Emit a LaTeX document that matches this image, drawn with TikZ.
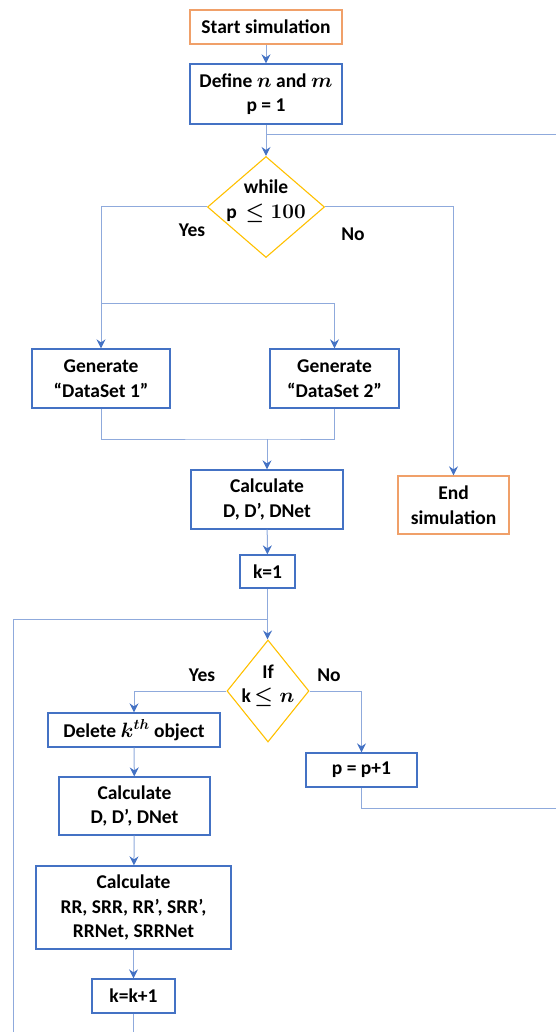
\documentclass[tikz,border=0pt]{standalone}
\usepackage[no-math]{fontspec}
\setmainfont{Carlito}
\usetikzlibrary{shapes.geometric,arrows.meta}
\definecolor{boxblue}{RGB}{68,114,196}
\definecolor{linkblue}{RGB}{143,170,220}
\definecolor{termorange}{RGB}{240,160,105}
\definecolor{decyellow}{RGB}{255,192,0}

\begin{document}
\begin{tikzpicture}[x=1pt,y=-1pt,
  every node/.style={font=\fontsize{19.5}{24.5}\selectfont\bfseries\mathversion{bold},
    align=center, inner sep=0pt},
  procbox/.style={draw=boxblue, line width=1.3pt, fill=white},
  termbox/.style={draw=termorange, line width=1.3pt, fill=white},
  decision/.style={diamond, draw=decyellow, line width=1.1pt, inner sep=0pt},
  link/.style={draw=linkblue, line width=1pt},
  flow/.style={link, -{Stealth[length=9pt,width=9pt,inset=3pt,color=boxblue]}}]

\useasboundingbox (0,0) rectangle (556,1032);

% terminals
\node[termbox, minimum width=152pt, minimum height=34pt] (start) at (266,27) {Start simulation};
\node[termbox, minimum width=111pt, minimum height=58pt] (stop) at (453.5,505) {End\\simulation};

% process boxes
\node[procbox, minimum width=152pt, minimum height=60pt] (define) at (266,94) {Define $n$ and $m$\\p = 1};
\node[procbox, minimum width=138pt, minimum height=59pt] (gen1) at (101,378.5) {Generate\\“DataSet 1”};
\node[procbox, minimum width=129pt, minimum height=59pt] (gen2) at (334.5,378.5) {Generate\\“DataSet 2”};
\node[procbox, minimum width=152pt, minimum height=59pt] (calc1) at (267,499.5) {Calculate\\D, D’, DNet};
\node[procbox, minimum width=55pt, minimum height=33pt] (k1) at (267.5,571.5) {k=1};
\node[procbox, minimum width=172pt, minimum height=34pt] (del) at (134,730) {Delete $k^{th}$ object};
\node[procbox, minimum width=151pt, minimum height=58pt] (calc2) at (134.5,806) {Calculate\\D, D’, DNet};
\node[procbox, minimum width=195pt, minimum height=83pt] (calc3) at (133.5,907.5) {Calculate\\RR, SRR, RR’, SRR’,\\RRNet, SRRNet};
\node[procbox, minimum width=83pt, minimum height=34pt] (kk) at (133.5,996) {k=k+1};
\node[procbox, minimum width=111pt, minimum height=34pt] (pp) at (361.5,770) {p = p+1};

% decisions
\node[decision, minimum width=117pt, minimum height=101pt,
  label={[yshift=6pt]center:while\\p\ \ $\leq 100$}] (d1) at (266,207) {};
\node[decision, minimum width=82pt, minimum height=102pt,
  label={[yshift=5pt]center:If\\k\,$\leq n$}] (d2) at (268,691) {};

% branch labels
\node (yes1) at (192,230) {Yes};
\node (no1) at (353,234) {No};
\node (yes2) at (202,675) {Yes};
\node (no2) at (329,675) {No};

% loose ends and junctions
\coordinate (outerret) at (556,135);
\coordinate (split) at (101,303);
\coordinate (merge) at (267,439);
\coordinate (innerret) at (13,619);
\coordinate (innerbot) at (13,1032);
\coordinate (kkbot) at (133.5,1032);
\coordinate (ppout) at (556,808);

% connectors
\draw[flow] (start) -- (define);
\draw[flow] (define) -- (d1);
\draw[link] (outerret) -- (define.south |- outerret);
\draw[flow] (d1.west) -| (gen1.north);
\draw[flow] (split) -| (gen2.north);
\draw[flow] (d1.east) -| (stop.north);
\draw[link] (gen1.south) |- (merge) -| (gen2.south);
\draw[flow] (merge) -- (calc1.north);
\draw[flow] (calc1) -- (k1);
\draw[flow] (k1.south) -- (k1.south |- d2.north);
\draw[link] (innerbot) |- (d2.north |- innerret);
\draw[flow] (d2.west) -| (del.north);
\draw[flow] (del) -- (calc2);
\draw[flow] (calc2) -- (calc3);
\draw[flow] (calc3) -- (kk);
\draw[link] (kk.south) -- (kkbot);
\draw[flow] (d2.east) -| (pp.north);
\draw[link] (pp.south) |- (ppout);
\end{tikzpicture}
\end{document}
